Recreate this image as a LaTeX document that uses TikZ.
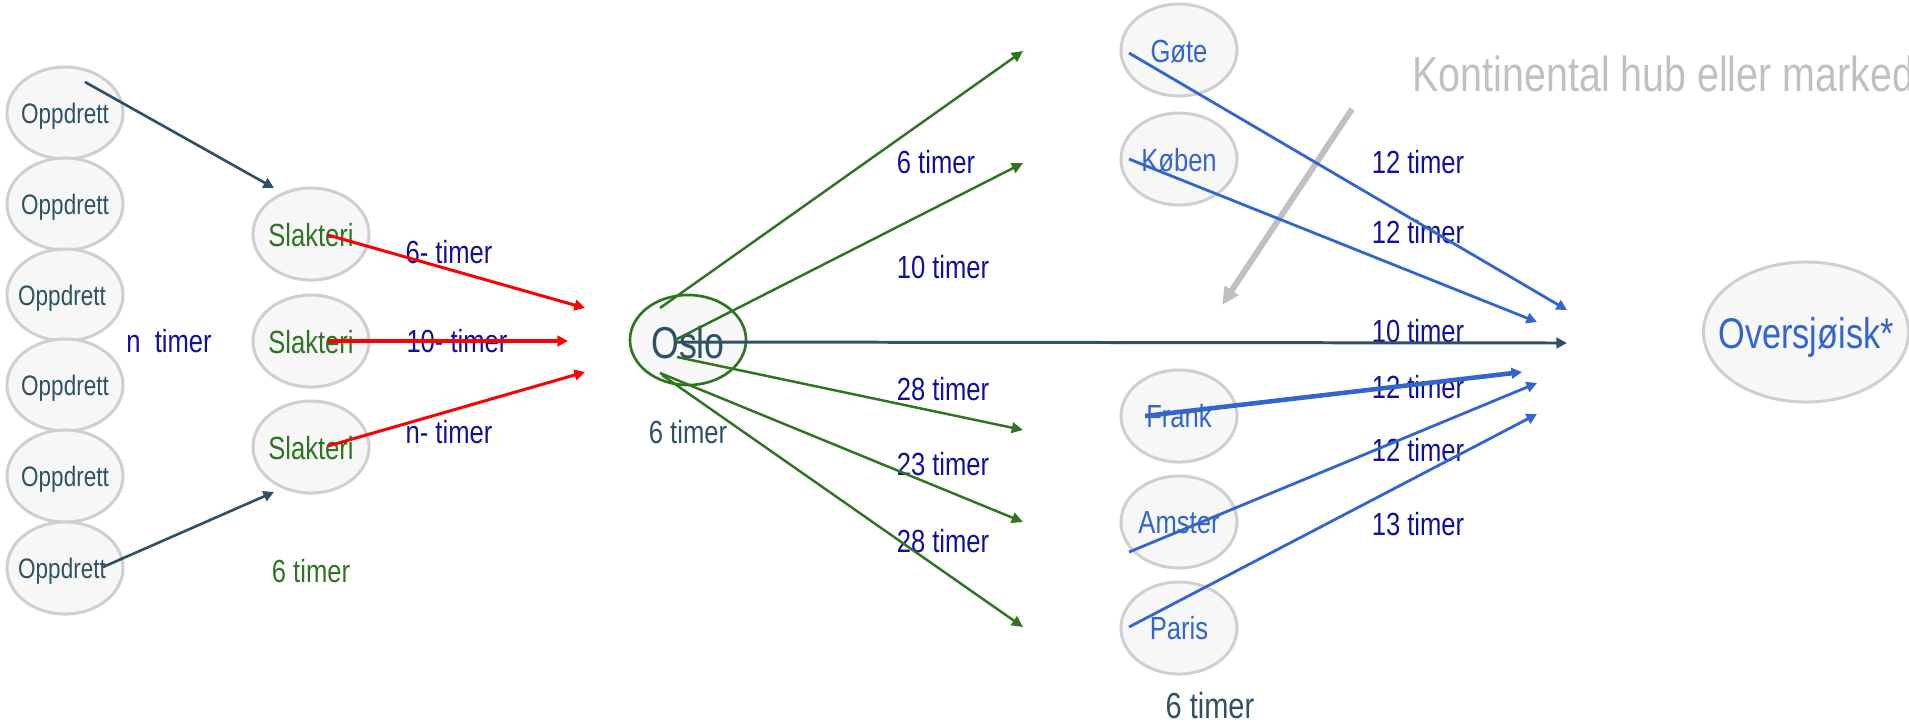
\documentclass[tikz,border=0pt]{standalone}
\usepackage{fontspec}
\setmainfont{Liberation Sans}[FakeStretch=0.8]
\usetikzlibrary{arrows.meta,calc,shapes.geometric}
\definecolor{ellfill}{HTML}{F7F7F7}
\definecolor{elldraw}{HTML}{CFCFCF}
\definecolor{slate}{HTML}{2E5166}
\definecolor{dgreen}{HTML}{2E7421}
\definecolor{navy}{HTML}{10109C}
\definecolor{cblue}{HTML}{3366CC}
\definecolor{lgray}{HTML}{C0C0C0}
\begin{document}
\begin{tikzpicture}[x=0.01cm,y=-0.01cm,
  ell/.style={ellipse,draw=elldraw,fill=ellfill,line width=0.85pt,minimum width=1.16cm,minimum height=0.92cm,inner sep=0pt},
  txt/.style={inner sep=0pt,anchor=base},
  otx/.style={txt,text=slate,font=\fontsize{8pt}{10pt}\selectfont},
  stx/.style={txt,text=dgreen,font=\fontsize{9.1pt}{11pt}\selectfont},
  ctx/.style={txt,text=cblue,font=\fontsize{9.1pt}{11pt}\selectfont},
  lab/.style={txt,text=navy,font=\fontsize{9.1pt}{11pt}\selectfont},
  garr/.style={draw=dgreen,line width=0.7pt,-{Triangle[length=3.2pt,width=3pt]}},
  rarr/.style={draw=red,line width=0.85pt,-{Triangle[length=3pt,width=3pt]}},
  barr/.style={draw=cblue,line width=0.8pt,-{Triangle[length=3pt,width=3pt]}},
  sarr/.style={draw=slate,line width=0.75pt,-{Triangle[length=3pt,width=3pt]}}
]
\useasboundingbox (0,0) rectangle (1909,726);
\clip (0,0) rectangle (1909,726);

% Oppdrett column
\node[ell] (o1) at (65,113) {};
\node[ell] (o2) at (65,204) {};
\node[ell] (o3) at (65,295) {};
\node[ell] (o4) at (65,385) {};
\node[ell] (o5) at (65,476) {};
\node[ell] (o6) at (65,568) {};
\node[otx] (o1t) at ($(o1)+(0,10.5)$) {Oppdrett};
\node[otx] (o2t) at ($(o2)+(0,10.5)$) {Oppdrett};
\node[otx] (o3t) at ($(o3)+(-3,10.5)$) {Oppdrett};
\node[otx] (o4t) at ($(o4)+(0,10.5)$) {Oppdrett};
\node[otx] (o5t) at ($(o5)+(0,10.5)$) {Oppdrett};
\node[otx] (o6t) at ($(o6)+(-3,10.5)$) {Oppdrett};

% Slakteri column
\node[ell] (sl1) at (311,234) {};
\node[ell] (sl2) at (311,341) {};
\node[ell] (sl3) at (311,447) {};
\node[stx] (sl1t) at ($(sl1)+(0,12)$) {Slakteri};
\node[stx] (sl2t) at ($(sl2)+(0,12)$) {Slakteri};
\node[stx] (sl3t) at ($(sl3)+(0,12)$) {Slakteri};

% Oslo
\node[ellipse,draw=dgreen,fill=ellfill,line width=0.75pt,minimum width=1.16cm,minimum height=0.90cm,inner sep=0pt] (oslo) at (688,340) {};
\node[txt,text=slate,font=\fontsize{12.7pt}{15pt}\selectfont] (oslot) at ($(oslo)+(0,18)$) {Oslo};

% destinations
\node[ell] (gote) at (1179,50) {};
\node[ell] (kob) at (1179,159) {};
\node[ell] (frank) at (1179,416) {};
\node[ell] (amst) at (1179,522) {};
\node[ell] (paris) at (1179,628) {};
\node[ctx] (gotet) at ($(gote)+(0,12.5)$) {Gøte};
\node[ctx] (kobt) at ($(kob)+(0,12.5)$) {Køben};
\node[ctx] (frankt) at ($(frank)+(0,11.5)$) {Frank};
\node[ctx] (amstt) at ($(amst)+(0,11.5)$) {Amster};
\node[ctx] (parist) at ($(paris)+(0,11.5)$) {Paris};

\node[ell,minimum width=2.05cm,minimum height=1.40cm] (overs) at (1806,332) {};
\node[txt,text=cblue,font=\fontsize{12.2pt}{14pt}\selectfont] (overst) at ($(overs)+(0,16)$) {Oversjøisk*};

% title
\node[inner sep=0pt,anchor=base west,text=lgray,font=\fontsize{14pt}{16pt}\selectfont] (title) at (1412,91) {Kontinental hub eller marked};

% labels
\node[lab] (l1) at (169,352) {n\ \ timer};
\node[lab] (l2) at (449,263) {6- timer};
\node[lab] (l3) at (457,352) {10- timer};
\node[lab] (l4) at (449,443) {n- timer};
\node[txt,text=dgreen,font=\fontsize{9.1pt}{11pt}\selectfont] (l5) at (311,582) {6 timer};
\node[txt,text=slate,font=\fontsize{9.1pt}{11pt}\selectfont] (l6) at (688,443) {6 timer};
\node[lab] (l7) at (936,173) {6 timer};
\node[lab] (l8) at (943,278) {10 timer};
\node[lab] (l9) at (943,400) {28 timer};
\node[lab] (l10) at (943,475) {23 timer};
\node[lab] (l11) at (943,552) {28 timer};
\node[lab] (l12) at (1418,173) {12 timer};
\node[lab] (l13) at (1418,243) {12 timer};
\node[lab] (l14) at (1418,342) {10 timer};
\node[lab] (l15) at (1418,398) {12 timer};
\node[lab] (l16) at (1418,461) {12 timer};
\node[lab] (l17) at (1418,535) {13 timer};
\node[txt,text=slate,font=\fontsize{10.3pt}{12pt}\selectfont] (l18) at (1210,718) {6 timer};

% free arrow ends
\coordinate (p1) at (274,188);
\coordinate (p2) at (274,492);
\coordinate (r1) at (585,308);
\coordinate (r2) at (568,341);
\coordinate (r3) at (585,372);
\coordinate (g1) at (1023,51);
\coordinate (g2) at (1023,163);
\coordinate (g3) at (1023,430);
\coordinate (g4) at (1023,522);
\coordinate (g5) at (1023,627);
\coordinate (oe) at (1567,343);
\coordinate (b1) at (1567,310);
\coordinate (b2) at (1537,322);
\coordinate (b3) at (1522,372);
\coordinate (b4) at (1537,383);
\coordinate (b5) at (1537,414);
\coordinate (gs) at (1352,109);
\coordinate (ge) at (1222,305);

% connectors
\draw[sarr] ($(o1)+(20,-31)$) -- (p1);
\draw[sarr] ($(o6)+(38,-1)$) -- (p2);
\draw[rarr] ($(sl1)+(17,1)$) -- (r1);
\draw[rarr,line width=1.4pt,-{Triangle[length=3pt,width=3pt]}] ($(sl2)+(17,0)$) -- (r2);
\draw[rarr] ($(sl3)+(17,-1)$) -- (r3);
\draw[garr] ($(oslo)+(-28,-32)$) -- (g1);
\draw[garr] ($(oslo)+(-13,0)$) -- (g2);
\draw[garr] ($(oslo)+(-11,17)$) -- (g3);
\draw[garr] ($(oslo)+(-28,33)$) -- (g4);
\draw[garr] ($(oslo)+(-26,35)$) -- (g5);
\draw[sarr,line width=0.85pt] ($(oslo)+(-11,2)$) -- (oe);
\draw[draw=lgray,line width=1.7pt,-{Triangle[length=5pt,width=4.5pt]}] (gs) -- (ge);
\draw[barr] ($(gote)+(-50,3)$) -- (b1);
\draw[barr] ($(kob)+(-50,0)$) -- (b2);
\draw[barr,line width=1.3pt] ($(frank)+(-34,0)$) -- (b3);
\draw[barr] ($(amst)+(-50,30)$) -- (b4);
\draw[barr] ($(paris)+(-50,-1)$) -- (b5);
\end{tikzpicture}
\end{document}
